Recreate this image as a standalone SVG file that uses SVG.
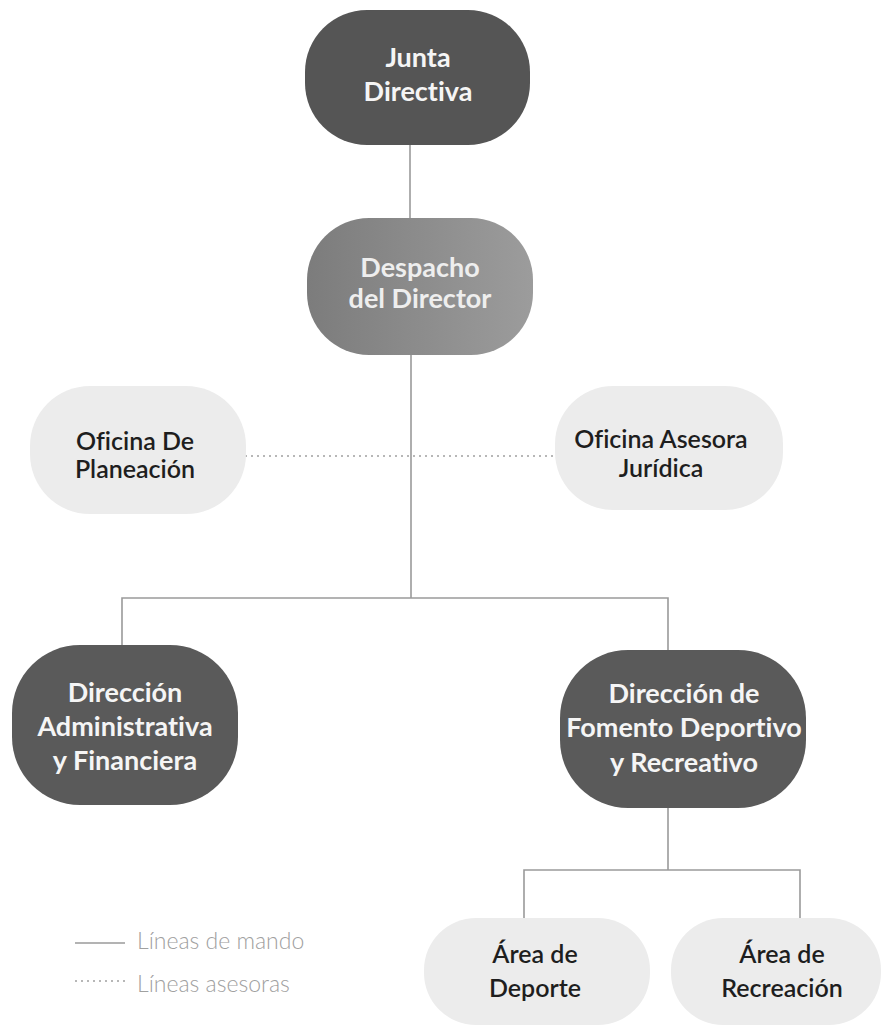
<svg xmlns="http://www.w3.org/2000/svg" width="886" height="1028" viewBox="0 0 886 1028">
<style>
text{font-variant-ligatures:none;font-feature-settings:"liga" 0,"dlig" 0}
.dark{fill:#5a5a5a}
.light{fill:#ececec}
.tw{font-family:Lato,"Open Sans","Liberation Sans",sans-serif;font-weight:bold;font-size:27px;fill:#f5f5f5;text-anchor:middle}
.tb{font-family:Lato,"Open Sans","Liberation Sans",sans-serif;font-weight:600;font-size:25px;fill:#1e1e1e;text-anchor:middle}
.lg{font-family:Lato,"Open Sans","Liberation Sans",sans-serif;font-weight:300;font-size:23px;fill:#a0a0a0}
.cmd{stroke:#9a9a9a;stroke-width:1.6;fill:none}
.adv{stroke:#a0a0a0;stroke-width:1.6;fill:none;stroke-dasharray:2 4}
</style>
<defs>
<linearGradient id="gDesp" x1="0" y1="0" x2="1" y2="0">
<stop offset="0" stop-color="#7c7c7c"/>
<stop offset="1" stop-color="#9c9c9c"/>
</linearGradient>
</defs>
<rect width="886" height="1028" fill="#ffffff"/>
<g id="connectors">
<line class="cmd" x1="410" y1="145" x2="410" y2="218"/>
<line class="cmd" x1="411" y1="355" x2="411" y2="598"/>
<polyline class="cmd" points="122,645 122,598 668,598 668,650"/>
<line class="cmd" x1="668" y1="808" x2="668" y2="870"/>
<polyline class="cmd" points="524,918 524,870 800,870 800,918"/>
<line class="adv" x1="245" y1="456" x2="556" y2="456"/>
</g>
<g id="junta">
<rect x="305" y="10" width="225" height="135" rx="62" fill="#555555"/>
<text class="tw" x="418" y="67">Junta</text>
<text class="tw" x="418" y="101">Directiva</text>
</g>
<g id="despacho">
<rect x="307" y="218" width="226" height="137" rx="62" fill="url(#gDesp)"/>
<text class="tw" x="420" y="277" style="fill:#eeeeee">Despacho</text>
<text class="tw" x="420" y="308" style="fill:#eeeeee">del Director</text>
</g>
<g id="planeacion">
<rect class="light" x="30" y="386" width="216" height="128" rx="60"/>
<text class="tb" x="135" y="450">Oficina De</text>
<text class="tb" x="135" y="478">Planeación</text>
</g>
<g id="juridica">
<rect class="light" x="555" y="386" width="228" height="124" rx="58"/>
<text class="tb" x="661" y="448">Oficina Asesora</text>
<text class="tb" x="661" y="477">Jurídica</text>
</g>
<g id="administrativa">
<rect class="dark" x="12" y="645" width="226" height="160" rx="68"/>
<text class="tw" x="125" y="702">Dirección</text>
<text class="tw" x="125" y="736">Administrativa</text>
<text class="tw" x="125" y="770">y Financiera</text>
</g>
<g id="fomento">
<rect class="dark" x="560" y="650" width="246" height="158" rx="68"/>
<text class="tw" x="684" y="703">Dirección de</text>
<text class="tw" x="684" y="737">Fomento Deportivo</text>
<text class="tw" x="684" y="772">y Recreativo</text>
</g>
<g id="deporte">
<rect class="light" x="424" y="918" width="226" height="107" rx="52"/>
<text class="tb" x="535" y="963">Área de</text>
<text class="tb" x="535" y="997">Deporte</text>
</g>
<g id="recreacion">
<rect class="light" x="671" y="918" width="210" height="107" rx="52"/>
<text class="tb" x="782" y="963">Área de</text>
<text class="tb" x="782" y="997">Recreación</text>
</g>
<g id="legend">
<line class="cmd" x1="75" y1="943" x2="125" y2="943"/>
<text class="lg" x="137" y="949">Líneas de mando</text>
<line class="adv" x1="75" y1="981" x2="125" y2="981"/>
<text class="lg" x="137" y="992">Líneas asesoras</text>
</g>
</svg>
